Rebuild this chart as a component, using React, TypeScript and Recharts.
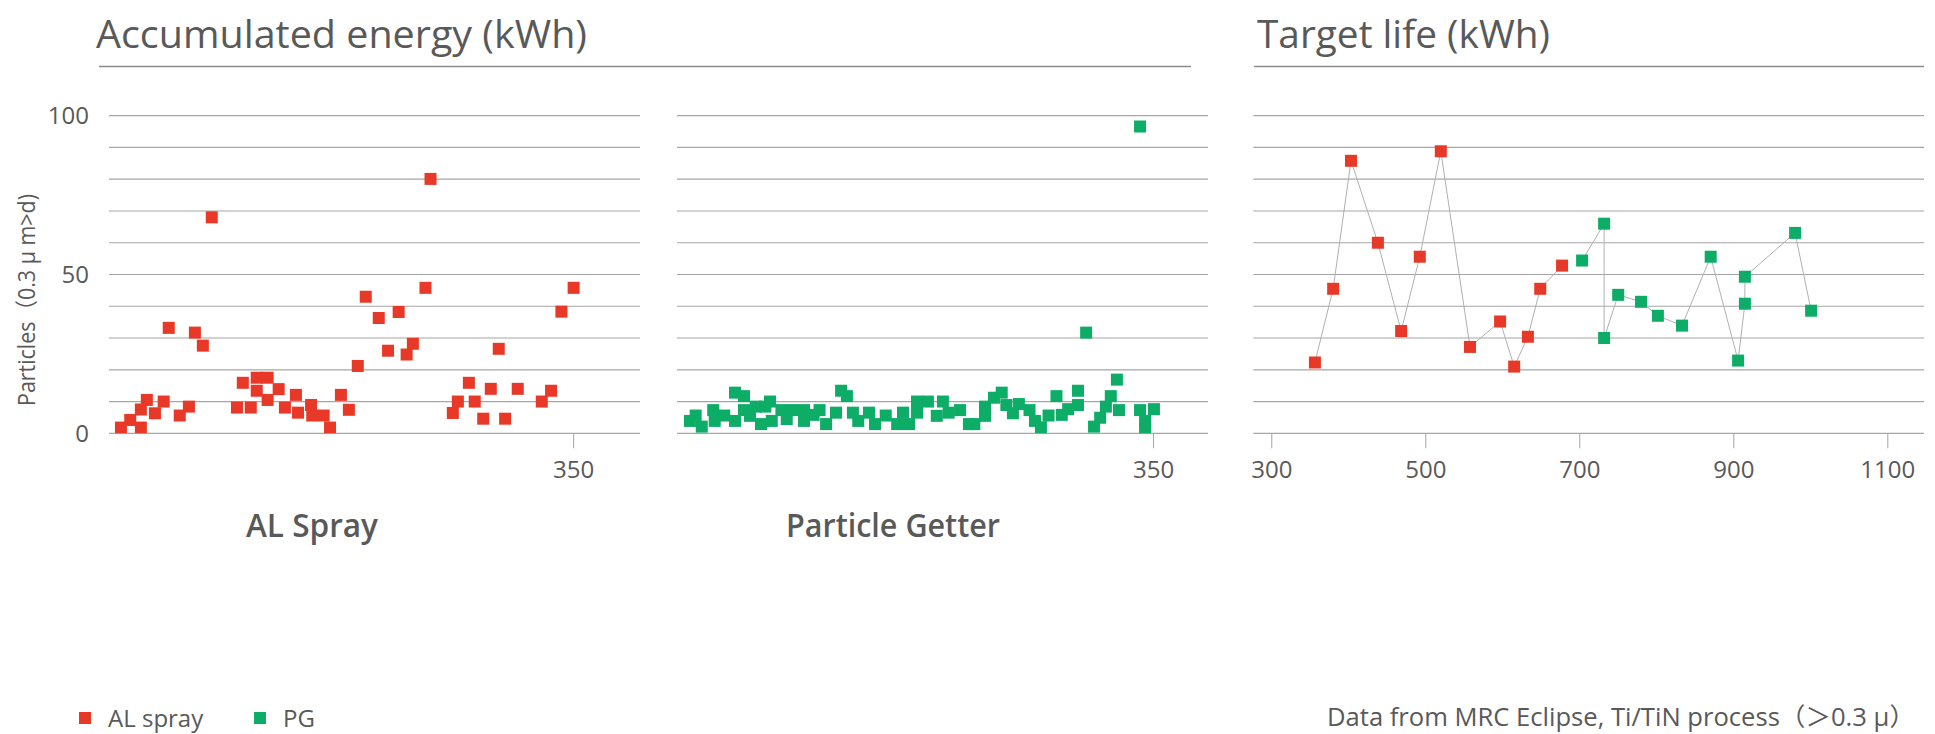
import React from 'react';
import { ScatterChart, Scatter, XAxis, YAxis, CartesianGrid } from 'recharts';

const RED = '#E83828';
const GREEN = '#0DAD67';
const INK = '#595959';
const GRID = '#a6a6a6';
const RULE = '#8c8c8c';
const LINK = '#b0b0b0';
const FONT = "'Open Sans', 'Noto Sans CJK JP', sans-serif";

const particleTicks = [0, 10, 20, 30, 40, 50, 60, 70, 80, 90, 100];
const labelledParticleTicks = [0, 50, 100];
const alEnergyTicks = [350];
const pgEnergyTicks = [350];
const lifeTicks = [300, 500, 700, 900, 1100];

const alSprayEnergy = [9, 16, 24, 24, 28.5, 34.6, 41.2, 45, 53.3, 60.2, 64.7, 70.7, 77.4, 96.4, 100.8, 106.8, 111.3, 111.3, 119.5, 119.5, 127.8, 132.5, 140.8, 142.4, 152.2, 153.1, 161.7, 166.5, 174.7, 180.7, 187.4, 193.4, 203.2, 210.2, 218.2, 224.2, 228.9, 238.4, 242.2, 259, 262.8, 271.1, 275.5, 281.9, 287.6, 293.6, 298.4, 307.9, 326, 333, 340.8, 350];
const alSprayParticles = [1.8, 4.2, 1.8, 7.5, 10.5, 6.3, 10, 33.2, 5.6, 8.4, 31.7, 27.6, 68, 8.1, 15.9, 8.1, 13.4, 17.5, 17.5, 10.5, 13.9, 8.1, 12.1, 6.5, 8.9, 5.6, 5.6, 1.8, 12.1, 7.4, 21.2, 43, 36.3, 26, 38.2, 24.8, 28.2, 45.8, 80.1, 6.4, 10, 15.9, 10, 4.6, 14, 26.6, 4.6, 14, 10, 13.4, 38.3, 45.8];

const pgEnergy = [9.5, 13.7, 18.2, 26.6, 27.7, 34.7, 42.6, 42.6, 49.2, 49.2, 53.6, 57.8, 61.7, 64.9, 68.3, 69.6, 76.7, 80.6, 85, 93.3, 93.3, 100.3, 104.7, 109.5, 116.8, 120.5, 124.8, 129.2, 133.1, 141, 145.4, 153.3, 161.7, 166, 170.4, 176.3, 176.3, 184.3, 190.8, 195.3, 199.5, 207.9, 214.4, 218.4, 226.2, 226.2, 232.8, 238.5, 241.9, 246.7, 251.1, 258.9, 262.9, 267.3, 272.9, 278.7, 282.6, 287.3, 294.5, 294.5, 300.5, 306.3, 310.8, 315, 318.6, 323.1, 324.6, 340.1, 340.1, 343.8, 343.8, 350.3];
const pgParticles = [3.9, 5.6, 2.1, 7.3, 3.9, 5.6, 12.8, 3.9, 11.7, 7.3, 5.5, 8.4, 2.9, 8.4, 10, 3.9, 7.3, 4.5, 7.3, 3.9, 7.3, 5.8, 7.3, 2.9, 6.5, 13.4, 11.7, 6.5, 3.9, 6.5, 2.9, 5.6, 2.9, 6.5, 2.9, 6.5, 10, 10, 5.5, 10, 6.5, 7.3, 2.9, 2.9, 5.5, 8.4, 11.2, 12.8, 8.9, 6.3, 9.2, 7.3, 3.9, 1.9, 5.6, 11.7, 5.8, 7.6, 8.9, 13.4, 31.7, 2.1, 4.9, 8.4, 11.7, 16.9, 7.3, 96.6, 7.3, 3.9, 1.3, 7.6];

const alLife = [356, 379.7, 402.9, 437.8, 468, 492.2, 519.5, 557.4, 596.5, 614.8, 632.6, 648.6, 677];
const alLifeParticles = [22.3, 45.5, 85.8, 60, 32.2, 55.6, 88.8, 27.2, 35.2, 21, 30.4, 45.5, 52.8];
const pgLife = [703, 731.6, 731.6, 749.9, 779.5, 801.4, 832.7, 870, 905.6, 914.4, 914.4, 979.6, 1000.4];
const pgLifeParticles = [54.4, 66, 30, 43.6, 41.4, 37, 33.9, 55.6, 22.9, 40.8, 49.3, 63.1, 38.6];

const zip = (xs: number[], ys: number[]) => xs.map((x, i) => ({ x, y: ys[i] }));

const alEnergyData = zip(alSprayEnergy, alSprayParticles);
const pgEnergyData = zip(pgEnergy, pgParticles);
const alLifeData = zip(alLife, alLifeParticles);
const pgLifeData = zip(pgLife, pgLifeParticles);

const square = (color: string) => (props: any) => {
  const { cx, cy } = props;
  if (cx == null || cy == null) return <g />;
  return <rect x={cx - 6} y={cy - 6} width={12} height={12} fill={color} />;
};

const tickStyle = { fill: INK, fontSize: 24, fontFamily: FONT };
const CH = 500;

function Panel(props: {
  left: number; width: number; mLeft: number; mRight: number; yWidth: number; showY: boolean;
  domain: [number, number]; ticks: number[]; children: React.ReactNode;
}) {
  const { left, width, mLeft, mRight, yWidth, showY, domain, ticks, children } = props;
  return (
    <div style={{ position: 'absolute', left, top: 0 }}>
      <ScatterChart width={width} height={CH} margin={{ top: 115.7, right: mRight, bottom: 16.7, left: mLeft }}>
        <CartesianGrid vertical={false} stroke={GRID} strokeWidth={1.2} />
        <XAxis
          type="number" dataKey="x" domain={domain} ticks={ticks} allowDataOverflow
          axisLine={false} tickSize={15} tickMargin={13} tickLine={{ stroke: GRID }}
          height={50} tick={tickStyle} interval={0}
        />
        <YAxis
          type="number" dataKey="y" domain={[0, 100]} ticks={particleTicks} allowDataOverflow
          axisLine={false} tickLine={false} tickSize={0} tickMargin={20} width={yWidth}
          interval={0}
          tick={tickStyle}
          tickFormatter={(v: number) => (showY && labelledParticleTicks.includes(v) ? String(v) : '')}
        />
        {children}
      </ScatterChart>
    </div>
  );
}

export default function App() {
  return (
    <div style={{ position: 'absolute', left: 0, top: 0, width: 1935, height: 734, background: '#fff', fontFamily: FONT }}>
      <Panel left={0} width={660} mLeft={0} mRight={20} yWidth={109} showY domain={[0, 400]} ticks={alEnergyTicks}>
        <Scatter data={alEnergyData} fill={RED} shape={square(RED)} isAnimationActive={false} />
      </Panel>
      <Panel left={660} width={560} mLeft={17} mRight={12} yWidth={0} showY={false} domain={[0, 390]} ticks={pgEnergyTicks}>
        <Scatter data={pgEnergyData} fill={GREEN} shape={square(GREEN)} isAnimationActive={false} />
      </Panel>
      <Panel left={1220} width={715} mLeft={33.3} mRight={11} yWidth={0} showY={false} domain={[276, 1147]} ticks={lifeTicks}>
        <Scatter data={alLifeData} fill={RED} shape={square(RED)} line={{ stroke: LINK, strokeWidth: 1 }} lineType="joint" isAnimationActive={false} />
        <Scatter data={pgLifeData} fill={GREEN} shape={square(GREEN)} line={{ stroke: LINK, strokeWidth: 1 }} lineType="joint" isAnimationActive={false} />
      </Panel>
      <svg width={1935} height={734} style={{ position: 'absolute', left: 0, top: 0, pointerEvents: 'none' }} fontFamily={FONT}>
        <text x={96} y={48} fontSize={39} fill={INK} textLength={491} lengthAdjust="spacingAndGlyphs">Accumulated energy (kWh)</text>
        <text x={1257} y={48} fontSize={39} fill={INK} textLength={293} lengthAdjust="spacingAndGlyphs">Target life (kWh)</text>
        <line x1={99} y1={66.5} x2={1191} y2={66.5} stroke={RULE} strokeWidth={1.5} />
        <line x1={1254} y1={66.5} x2={1924} y2={66.5} stroke={RULE} strokeWidth={1.5} />
        <text transform="translate(35,300) rotate(-90)" textAnchor="middle" fontSize={23} fill={INK} textLength={212} lengthAdjust="spacingAndGlyphs">Particles（0.3 μ m&gt;d)</text>
        <text x={312} y={537} textAnchor="middle" fontSize={32} fontWeight={600} fill={INK} textLength={132} lengthAdjust="spacingAndGlyphs">AL Spray</text>
        <text x={893} y={537} textAnchor="middle" fontSize={32} fontWeight={600} fill={INK} textLength={214} lengthAdjust="spacingAndGlyphs">Particle Getter</text>
        <rect x={79} y={712} width={12} height={12} fill={RED} />
        <text x={108} y={727} fontSize={24} fill={INK}>AL spray</text>
        <rect x={254} y={712} width={12} height={12} fill={GREEN} />
        <text x={283} y={727} fontSize={24} fill={INK}>PG</text>
        <text x={1915} y={726} textAnchor="end" fontSize={25} fill={INK} textLength={588} lengthAdjust="spacingAndGlyphs">Data from MRC Eclipse, Ti/TiN process（＞0.3 μ）</text>
      </svg>
    </div>
  );
}
